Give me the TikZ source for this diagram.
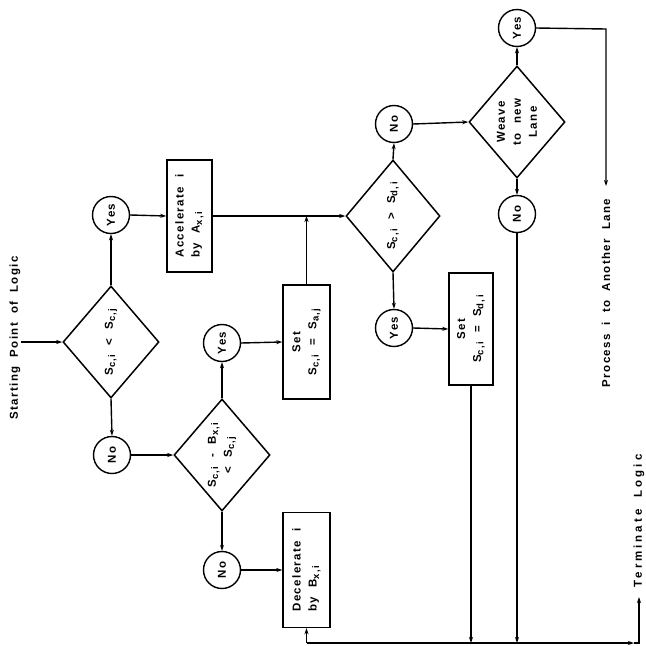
\documentclass[tikz,border=0pt]{standalone}
\usepackage{fontspec}
\setmainfont{Liberation Sans}[LetterSpace=12,WordSpace=2]
\usetikzlibrary{shapes.geometric,arrows.meta}
\newcommand\sbs[1]{\raisebox{-0.4ex}{\fontsize{9.5}{10}\selectfont #1}}
\begin{document}
\begin{tikzpicture}[x=1pt,y=-1pt,
  line width=1.4pt,
  >={Stealth[length=6pt,width=4pt]},
  dia/.style={draw,diamond,minimum width=96pt,minimum height=112pt,inner sep=0pt,line width=1.5pt},
  circ/.style={draw,circle,minimum size=37pt,inner sep=0pt,line width=1.4pt},
  boxn/.style={draw,rectangle,inner sep=0pt,line width=1.4pt},
  txt/.style={rotate=90,font=\bfseries\fontsize{11.5}{16}\selectfont,inner sep=0pt},
]
\useasboundingbox (0,0) rectangle (646,646);
% nodes
\coordinate (start) at (21,342);
\node[dia] (d1) at (111,342) {};
\node[circ] (yes1) at (111,215) {};
\node[boxn,minimum width=45pt,minimum height=112pt] (acc) at (189.5,216) {};
\node[circ] (no1) at (112,455) {};
\node[dia] (d2) at (222,455) {};
\node[circ] (yes2) at (222,343) {};
\node[circ] (no2) at (222,570) {};
\node[boxn,minimum width=47pt,minimum height=114pt] (set1) at (306.5,342) {};
\node[boxn,minimum width=47pt,minimum height=115pt] (dec) at (306.5,570) {};
\node[dia,minimum width=94pt] (d3) at (393,216) {};
\node[circ] (no3) at (394,124) {};
\node[circ] (yes3) at (394,328) {};
\node[boxn,minimum width=44pt,minimum height=112pt] (set2) at (471,329) {};
\node[dia] (d4) at (517,122) {};
\node[circ] (yes4) at (517,28) {};
\node[circ] (no4) at (517,214) {};
\coordinate (setj) at (306.5,216);
\coordinate (pcorner) at (606,29);
\coordinate (pend) at (606,186);
\coordinate (bl) at (306.5,643);
\coordinate (bs2) at (471,643);
\coordinate (bn4) at (517,643);
\coordinate (br) at (634,643);
\coordinate (tc) at (639,643);
\coordinate (tend) at (639,597);
% texts
\node[txt] (tstart) at (15,338) {Starting Point of Logic};
\node[txt] (tproc) at (606,293) {Process i to Another Lane};
\node[txt,font=\bfseries\fontsize{11.5}{16}\selectfont\addfontfeature{LetterSpace=26}] (tterm) at (639,521) {Terminate Logic};
\node[txt] at (d1) {S\sbs{c,\,i} < S\sbs{c,\,j}};
\node[txt,align=center] at (d2) {S\sbs{c,\,i} - B\sbs{x,\,i}\\< S\sbs{c,\,j}};
\node[txt] at (d3) {S\sbs{c,\,i} > S\sbs{d,\,i}};
\node[txt,align=center] at (d4) {Weave\\to new\\Lane};
\node[txt,align=left] at (acc) {Accelerate i\\by A\sbs{x,\,i}};
\node[txt,align=left] at (dec) {Decelerate i\\by B\sbs{x,\,i}};
\node[txt,align=center] at (set1) {Set\\S\sbs{c,\,i} = S\sbs{a,\,j}};
\node[txt,align=center] at (set2) {Set\\S\sbs{c,\,i} = S\sbs{d,\,i}};
\foreach \n in {yes1,yes2,yes3,yes4} \node[txt] at (\n) {Yes};
\foreach \n in {no1,no2,no3,no4} \node[txt] at (\n) {No};
% connectors
\draw[->] (start) -- (d1.west);
\draw[->] (d1.north) -- (yes1.south);
\draw[->] (d1.south) -- (no1.north);
\draw[->] (yes1.east) -- (acc.west);
\draw[->] (no1.east) -- (d2.west);
\draw[->] (d2.north) -- (yes2.south);
\draw[->] (d2.south) -- (no2.north);
\draw[->] (yes2.east) -- (set1.west);
\draw[->] (no2.east) -- (dec.west);
\draw[->] (acc.east) -- (d3.west);
\draw[->] (set1.north) -- (setj);
\draw[->] (d3.north) -- (no3.south);
\draw[->] (d3.south) -- (yes3.north);
\draw[->] (yes3.east) -- (set2.west);
\draw[->] (no3.east) -- (d4.west);
\draw[->] (d4.north) -- (yes4.south);
\draw[->] (d4.south) -- (no4.north);
\draw[->] (yes4.east) -- (pcorner) -- (pend);
\draw[->] (set2.south) -- (bs2);
\draw[->] (no4.south) -- (bn4);
\draw[->] (bl) -- (dec.south);
\draw[->] (bl) -- (br);
\draw[->] (br) -- (tc) -- (tend);
\end{tikzpicture}
\end{document}
